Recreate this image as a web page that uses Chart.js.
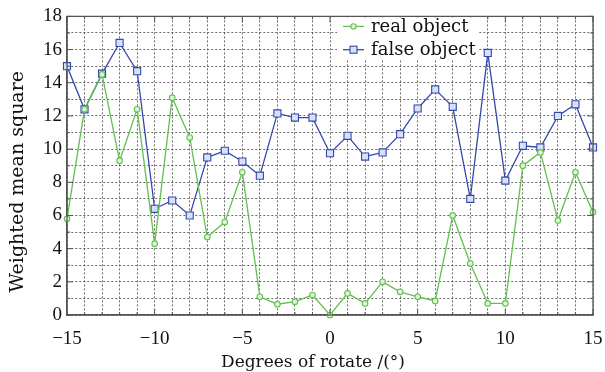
<!DOCTYPE html>
<html>
<head>
<meta charset="utf-8">
<script src="https://cdn.jsdelivr.net/npm/chart.js@4/dist/chart.umd.min.js"></script>
<style>
html,body{margin:0;padding:0;background:#fff;}
#wrap{width:605px;height:372px;position:relative;}
</style>
</head>
<body>
<div id="wrap"><canvas id="c" width="605" height="372"></canvas></div>
<script>
const degrees = [-15,-14,-13,-12,-11,-10,-9,-8,-7,-6,-5,-4,-3,-2,-1,0,1,2,3,4,5,6,7,8,9,10,11,12,13,14,15];
const realObject = [5.8,12.4,14.5,9.3,12.4,4.3,13.1,10.7,4.7,5.6,8.6,1.1,0.65,0.8,1.2,0.0,1.3,0.7,2.0,1.4,1.1,0.85,6.0,3.1,0.7,0.7,9.0,9.8,5.7,8.6,6.2];
const falseObject = [15.0,12.4,14.55,16.4,14.7,6.4,6.9,6.0,9.5,9.9,9.25,8.4,12.15,11.9,11.9,9.75,10.8,9.55,9.8,10.9,12.45,13.6,12.55,7.0,15.8,8.1,10.2,10.1,12.0,12.7,10.1];
const seriesNames = ['real object','false object'];
const xTickLabels = {'-15':'\u221215','-10':'\u221210','-5':'\u22125','0':'0','5':'5','10':'10','15':'15'};
const yTickLabels = ['0','2','4','6','8','10','12','14','16','18'];
const xTitle = 'Degrees of rotate /(\u00b0)';
const yTitle = 'Weighted mean square';

const GREEN = 'rgb(98,192,80)';
const BLUE = 'rgb(52,72,172)';
const SERIF = '"Liberation Serif", serif';
const SERIF2 = '"DejaVu Serif", serif';

const frameAndTicks = {
  id:'frameAndTicks',
  afterDatasetsDraw(chart){
    const {ctx, chartArea:a, scales} = chart;
    ctx.save();
    ctx.strokeStyle = '#555';
    ctx.lineWidth = 1;
    for (let v=-15; v<=15; v++){
      const px = scales.x.getPixelForValue(v);
      const len = (v%5===0)?6:3;
      ctx.beginPath();
      ctx.moveTo(px, a.bottom); ctx.lineTo(px, a.bottom-len);
      ctx.moveTo(px, a.top); ctx.lineTo(px, a.top+len);
      ctx.stroke();
    }
    for (let v=0; v<=18; v++){
      const py = scales.y.getPixelForValue(v);
      const len = (v%2===0)?6:3;
      ctx.beginPath();
      ctx.moveTo(a.left, py); ctx.lineTo(a.left+len, py);
      ctx.moveTo(a.right, py); ctx.lineTo(a.right-len, py);
      ctx.stroke();
    }
    ctx.lineWidth = 1.3;
    ctx.strokeRect(a.left, a.top, a.right-a.left, a.bottom-a.top);
    ctx.restore();
  }
};

const axisTitles = {
  id:'axisTitles',
  afterDraw(chart){
    const {ctx, chartArea:a} = chart;
    ctx.save();
    ctx.fillStyle = '#111';
    ctx.textAlign = 'center';
    ctx.textBaseline = 'middle';
    ctx.font = '19px ' + SERIF2;
    ctx.translate(18, (a.top+a.bottom)/2 + 16);
    ctx.rotate(-Math.PI/2);
    ctx.fillText(yTitle, 0, 0);
    ctx.restore();
    ctx.save();
    ctx.fillStyle = '#111';
    ctx.textAlign = 'center';
    ctx.textBaseline = 'alphabetic';
    ctx.font = '17px ' + SERIF2;
    ctx.fillText(xTitle, (a.left+a.right)/2 - 17, a.bottom + 52);
    ctx.restore();
  }
};

const innerLegend = {
  id:'innerLegend',
  afterDraw(chart){
    const {ctx, chartArea:a} = chart;
    const x0 = a.left + 276, y0 = a.top;
    ctx.save();
    ctx.fillStyle = '#fff';
    ctx.fillRect(x0-6, y0+1, 142, 42);
    ctx.font = '18px ' + SERIF2;
    ctx.textBaseline = 'middle';
    chart.data.datasets.forEach((ds, i) => {
      const y = y0 + 10 + i*23.3;
      ctx.strokeStyle = ds.borderColor;
      ctx.lineWidth = 1.3;
      ctx.beginPath(); ctx.moveTo(x0, y); ctx.lineTo(x0+21, y); ctx.stroke();
      ctx.fillStyle = ds.pointBackgroundColor;
      ctx.strokeStyle = ds.borderColor;
      ctx.lineWidth = 1.1;
      if (ds.pointStyle === 'rect') {
        ctx.fillRect(x0+7, y-3.5, 7, 7);
        ctx.strokeRect(x0+7, y-3.5, 7, 7);
      } else {
        ctx.beginPath(); ctx.arc(x0+10.5, y, 2.6, 0, Math.PI*2); ctx.fill(); ctx.stroke();
      }
      ctx.fillStyle = '#111';
      ctx.fillText(ds.label, x0+28, y+1);
    });
    ctx.restore();
  }
};

new Chart(document.getElementById('c'), {
  type:'line',
  data:{
    labels: degrees,
    datasets:[
      {label:seriesNames[0], data:degrees.map((d,i)=>({x:d,y:realObject[i]})), borderColor:GREEN, backgroundColor:GREEN, clip:false,
       pointBackgroundColor:'rgba(222,245,215,1)', pointBorderColor:GREEN, pointStyle:'circle', pointRadius:2.8, pointBorderWidth:1.1, borderWidth:1.3, tension:0},
      {label:seriesNames[1], data:degrees.map((d,i)=>({x:d,y:falseObject[i]})), borderColor:BLUE, backgroundColor:BLUE, clip:false,
       pointBackgroundColor:'rgba(215,225,250,1)', pointBorderColor:BLUE, pointStyle:'rect', pointRadius:5, pointBorderWidth:1.1, borderWidth:1.3, tension:0}
    ]
  },
  options:{
    responsive:false,
    animation:false,
    devicePixelRatio:1,
    layout:{padding:{top:15,right:12,left:0,bottom:0}},
    plugins:{legend:{display:false}, tooltip:{enabled:false}},
    scales:{
      x:{type:'linear', min:-15, max:15,
        afterFit(s){ s.height = 57; s.paddingLeft = 0; s.paddingRight = 0; },
        ticks:{stepSize:1, autoSkip:false, maxRotation:0, padding:13, color:'#111', font:{family:SERIF, size:19},
          callback:(v)=> (xTickLabels[String(v)] !== undefined ? xTickLabels[String(v)] : '')},
        grid:{color:'rgba(70,70,70,0.8)', lineWidth:1, drawTicks:false},
        border:{display:true, color:'#555', width:1.3, dash:[2,2]},
        title:{display:false}
      },
      y:{min:0, max:18,
        afterFit(s){ s.width = 67; },
        ticks:{stepSize:1, autoSkip:false, padding:5, color:'#111', font:{family:SERIF, size:19},
          callback:(v)=> (v%2===0 ? yTickLabels[v/2] : '')},
        grid:{color:'rgba(70,70,70,0.8)', lineWidth:1, drawTicks:false},
        border:{display:true, color:'#555', width:1.3, dash:[2,2]},
        title:{display:false}
      }
    }
  },
  plugins:[frameAndTicks, axisTitles, innerLegend]
});
</script>
</body>
</html>
